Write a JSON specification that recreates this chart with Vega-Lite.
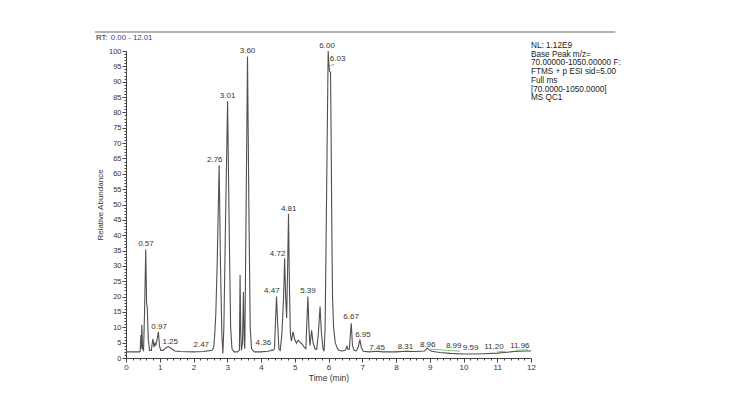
{
  "$schema": "https://vega.github.io/schema/vega-lite/v6.json",
  "autosize": "none",
  "padding": {"left": 126, "top": 51, "right": 206, "bottom": 57},
  "width": 405,
  "height": 307,
  "background": "white",
  "config": {"view": {"stroke": null}, "font": "Liberation Sans"},
  "datasets": {
    "trace": [
      {"t": 0.00, "v": 2.0}, {"t": 0.40, "v": 2.0}, {"t": 0.42, "v": 2.2}, {"t": 0.44, "v": 7.5}, {"t": 0.45, "v": 3.0},
      {"t": 0.47, "v": 10.8}, {"t": 0.49, "v": 3.0}, {"t": 0.52, "v": 2.5}, {"t": 0.55, "v": 15}, {"t": 0.585, "v": 35.3},
      {"t": 0.61, "v": 18}, {"t": 0.63, "v": 16.5}, {"t": 0.66, "v": 6}, {"t": 0.70, "v": 2.5}, {"t": 0.75, "v": 2.5},
      {"t": 0.78, "v": 5}, {"t": 0.80, "v": 6.2}, {"t": 0.83, "v": 3.5}, {"t": 0.86, "v": 5}, {"t": 0.88, "v": 4},
      {"t": 0.92, "v": 6}, {"t": 0.96, "v": 8.5}, {"t": 0.99, "v": 4}, {"t": 1.03, "v": 2.5}, {"t": 1.10, "v": 2.5},
      {"t": 1.18, "v": 3.3}, {"t": 1.25, "v": 3.7}, {"t": 1.33, "v": 3.2}, {"t": 1.45, "v": 2.3}, {"t": 1.60, "v": 2.1},
      {"t": 2.00, "v": 2.0}, {"t": 2.30, "v": 2.1}, {"t": 2.47, "v": 2.4}, {"t": 2.55, "v": 2.5}, {"t": 2.60, "v": 3.5},
      {"t": 2.63, "v": 8}, {"t": 2.66, "v": 14}, {"t": 2.70, "v": 30}, {"t": 2.76, "v": 62.8}, {"t": 2.80, "v": 30},
      {"t": 2.84, "v": 8}, {"t": 2.87, "v": 1.5}, {"t": 2.90, "v": 10}, {"t": 2.95, "v": 45}, {"t": 3.01, "v": 83.6},
      {"t": 3.06, "v": 40}, {"t": 3.10, "v": 10}, {"t": 3.14, "v": 3}, {"t": 3.20, "v": 2}, {"t": 3.30, "v": 2},
      {"t": 3.36, "v": 2.5}, {"t": 3.38, "v": 27}, {"t": 3.40, "v": 8}, {"t": 3.42, "v": 2.5}, {"t": 3.45, "v": 5},
      {"t": 3.48, "v": 21.5}, {"t": 3.50, "v": 6}, {"t": 3.52, "v": 3}, {"t": 3.56, "v": 50}, {"t": 3.60, "v": 98.2},
      {"t": 3.64, "v": 50}, {"t": 3.68, "v": 10}, {"t": 3.72, "v": 3}, {"t": 3.80, "v": 2}, {"t": 4.00, "v": 2},
      {"t": 4.20, "v": 2.2}, {"t": 4.36, "v": 2.5}, {"t": 4.40, "v": 3}, {"t": 4.43, "v": 12}, {"t": 4.46, "v": 20},
      {"t": 4.49, "v": 12}, {"t": 4.53, "v": 3}, {"t": 4.57, "v": 2.5}, {"t": 4.62, "v": 8}, {"t": 4.67, "v": 20},
      {"t": 4.70, "v": 32.5}, {"t": 4.73, "v": 20}, {"t": 4.76, "v": 13}, {"t": 4.79, "v": 30}, {"t": 4.815, "v": 47},
      {"t": 4.84, "v": 25}, {"t": 4.87, "v": 8}, {"t": 4.90, "v": 5.5}, {"t": 4.95, "v": 8.5}, {"t": 5.00, "v": 6},
      {"t": 5.05, "v": 4.8}, {"t": 5.10, "v": 5.8}, {"t": 5.15, "v": 5.2}, {"t": 5.22, "v": 4.5}, {"t": 5.28, "v": 3.5},
      {"t": 5.33, "v": 3}, {"t": 5.36, "v": 12}, {"t": 5.39, "v": 20}, {"t": 5.42, "v": 10}, {"t": 5.45, "v": 4},
      {"t": 5.50, "v": 9}, {"t": 5.54, "v": 5}, {"t": 5.60, "v": 3}, {"t": 5.65, "v": 2.8}, {"t": 5.70, "v": 8},
      {"t": 5.75, "v": 16.8}, {"t": 5.79, "v": 8}, {"t": 5.84, "v": 3}, {"t": 5.87, "v": 2.2}, {"t": 5.90, "v": 10},
      {"t": 5.95, "v": 60}, {"t": 5.99, "v": 100}, {"t": 6.01, "v": 96}, {"t": 6.03, "v": 93.5}, {"t": 6.06, "v": 93},
      {"t": 6.08, "v": 70}, {"t": 6.10, "v": 40}, {"t": 6.12, "v": 20}, {"t": 6.15, "v": 10}, {"t": 6.20, "v": 5},
      {"t": 6.25, "v": 3.5}, {"t": 6.30, "v": 2.5}, {"t": 6.40, "v": 2.3}, {"t": 6.50, "v": 2.5}, {"t": 6.55, "v": 3.8},
      {"t": 6.58, "v": 2.8}, {"t": 6.62, "v": 3}, {"t": 6.65, "v": 8}, {"t": 6.675, "v": 11.3}, {"t": 6.71, "v": 4},
      {"t": 6.76, "v": 2.5}, {"t": 6.82, "v": 2.3}, {"t": 6.88, "v": 3.5}, {"t": 6.93, "v": 6}, {"t": 6.97, "v": 3.5},
      {"t": 7.03, "v": 2.2}, {"t": 7.20, "v": 2.0}, {"t": 7.45, "v": 2.2}, {"t": 7.60, "v": 2.0}, {"t": 8.00, "v": 2.0},
      {"t": 8.31, "v": 2.2}, {"t": 8.60, "v": 2.1}, {"t": 8.85, "v": 2.3}, {"t": 8.92, "v": 3.2}, {"t": 8.97, "v": 2.8},
      {"t": 9.05, "v": 2.2}, {"t": 9.30, "v": 1.8}, {"t": 9.60, "v": 1.5}, {"t": 10.00, "v": 1.3}, {"t": 10.30, "v": 1.3},
      {"t": 10.60, "v": 1.4}, {"t": 11.00, "v": 1.6}, {"t": 11.20, "v": 1.8}, {"t": 11.50, "v": 2.1}, {"t": 11.80, "v": 2.3},
      {"t": 12.00, "v": 2.3}
    ],
    "green": [
      {"seg": "a", "t": 4.28, "v": 2.6}, {"seg": "a", "t": 4.40, "v": 2.9},
      {"seg": "b", "t": 6.05, "v": 95.3}, {"seg": "b", "t": 6.18, "v": 95.6},
      {"seg": "c", "t": 2.36, "v": 2.4}, {"seg": "c", "t": 2.47, "v": 2.5},
      {"seg": "d", "t": 9.00, "v": 2.9}, {"seg": "d", "t": 9.40, "v": 2.6}, {"seg": "d", "t": 9.90, "v": 2.2},
      {"seg": "e", "t": 11.00, "v": 2.0}, {"seg": "e", "t": 11.25, "v": 2.2},
      {"seg": "f", "t": 11.55, "v": 2.5}, {"seg": "f", "t": 11.90, "v": 2.7}
    ],
    "labels": [
      {"label": "0.57", "lx": 0.59, "ly": 35.8},
      {"label": "0.97", "lx": 0.98, "ly": 8.9},
      {"label": "1.25", "lx": 1.31, "ly": 4.0},
      {"label": "2.47", "lx": 2.23, "ly": 2.9},
      {"label": "2.76", "lx": 2.63, "ly": 63.2},
      {"label": "3.01", "lx": 3.01, "ly": 84.0},
      {"label": "3.60", "lx": 3.60, "ly": 98.6},
      {"label": "4.36", "lx": 4.07, "ly": 3.7},
      {"label": "4.47", "lx": 4.32, "ly": 20.4},
      {"label": "4.72", "lx": 4.49, "ly": 32.6},
      {"label": "4.81", "lx": 4.82, "ly": 47.2},
      {"label": "5.39", "lx": 5.39, "ly": 20.6},
      {"label": "6.00", "lx": 5.96, "ly": 100.4},
      {"label": "6.03", "lx": 6.27, "ly": 96.0},
      {"label": "6.67", "lx": 6.67, "ly": 11.9},
      {"label": "6.95", "lx": 7.02, "ly": 6.3},
      {"label": "7.45", "lx": 7.44, "ly": 2.0},
      {"label": "8.31", "lx": 8.28, "ly": 2.3},
      {"label": "8.96", "lx": 8.94, "ly": 2.9},
      {"label": "8.99", "lx": 9.71, "ly": 2.7},
      {"label": "9.59", "lx": 10.21, "ly": 2.0},
      {"label": "11.20", "lx": 10.90, "ly": 2.3},
      {"label": "11.96", "lx": 11.67, "ly": 2.7}
    ]
  },
  "layer": [
    {
      "data": {"name": "trace"},
      "mark": {"type": "line", "color": "#505050", "strokeWidth": 1.1, "clip": false},
      "encoding": {
        "x": {"field": "t", "type": "quantitative",
          "scale": {"domain": [0, 12], "nice": false, "zero": false},
          "axis": {"orient": "bottom", "values": [0,1,2,3,4,5,6,7,8,9,10,11,12], "format": "d", "grid": false,
            "title": "Time (min)", "titleFontSize": 8.5, "titleFontWeight": "normal", "titleColor": "#333333", "titlePadding": 2,
            "labelFontSize": 8, "labelColor": "#333333", "labelPadding": 1, "tickSize": 4, "tickColor": "#444444",
            "domainColor": "#444444", "labelFlush": false}},
        "y": {"field": "v", "type": "quantitative",
          "scale": {"domain": [0, 100], "nice": false},
          "axis": {"orient": "left", "values": [0,5,10,15,20,25,30,35,40,45,50,55,60,65,70,75,80,85,90,95,100], "grid": false,
            "title": "Relative Abundance", "titleFontSize": 8, "titleFontWeight": "normal", "titleColor": "#333333", "titlePadding": 4,
            "labelFontSize": 7.5, "labelColor": "#333333", "labelPadding": 1, "tickSize": 4, "tickColor": "#444444",
            "domainColor": "#444444", "labelFlush": false}}
      }
    },
    {
      "data": {"name": "green"},
      "mark": {"type": "line", "color": "#7cc47c", "strokeWidth": 1},
      "encoding": {
        "detail": {"field": "seg", "type": "nominal"},
        "x": {"field": "t", "type": "quantitative",
          "axis": {"orient": "bottom", "values": [0.2,0.4,0.6,0.8,1.2,1.4,1.6,1.8,2.2,2.4,2.6,2.8,3.2,3.4,3.6,3.8,4.2,4.4,4.6,4.8,5.2,5.4,5.6,5.8,6.2,6.4,6.6,6.8,7.2,7.4,7.6,7.8,8.2,8.4,8.6,8.8,9.2,9.4,9.6,9.8,10.2,10.4,10.6,10.8,11.2,11.4,11.6,11.8],
            "labels": false, "domain": false, "grid": false, "title": null, "tickSize": 2, "tickColor": "#444444"}},
        "y": {"field": "v", "type": "quantitative",
          "axis": {"orient": "left", "values": [1,2,3,4,6,7,8,9,11,12,13,14,16,17,18,19,21,22,23,24,26,27,28,29,31,32,33,34,36,37,38,39,41,42,43,44,46,47,48,49,51,52,53,54,56,57,58,59,61,62,63,64,66,67,68,69,71,72,73,74,76,77,78,79,81,82,83,84,86,87,88,89,91,92,93,94,96,97,98,99],
            "labels": false, "domain": false, "grid": false, "title": null, "tickSize": 2, "tickColor": "#444444"}}
      }
    },
    {
      "data": {"name": "labels"},
      "mark": {"type": "text", "fontSize": 8, "color": "#333333", "baseline": "bottom", "align": "center"},
      "encoding": {
        "x": {"field": "lx", "type": "quantitative", "axis": null},
        "y": {"field": "ly", "type": "quantitative", "axis": null},
        "text": {"field": "label", "type": "nominal"}
      }
    },
    {
      "data": {"values": [{}]},
      "mark": {"type": "text", "fontSize": 8.2, "color": "#222222", "align": "left", "baseline": "top", "lineHeight": 8.7,
        "text": ["NL: 1.12E9", "Base Peak m/z=", "70.00000-1050.00000 F:", "FTMS + p ESI sid=5.00", "Full ms", "[70.0000-1050.0000]", "MS QC1"]},
      "encoding": {"x": {"datum": 12.0, "type": "quantitative", "axis": null}, "y": {"datum": 102.9, "type": "quantitative", "axis": null}}
    },
    {
      "data": {"values": [{}]},
      "mark": {"type": "text", "fontSize": 7.8, "color": "#222222", "align": "left", "baseline": "middle", "text": "RT:"},
      "encoding": {"x": {"datum": -0.89, "type": "quantitative", "axis": null}, "y": {"datum": 104.2, "type": "quantitative", "axis": null}}
    },
    {
      "data": {"values": [{}]},
      "mark": {"type": "text", "fontSize": 7.8, "color": "#3a3aa8", "align": "left", "baseline": "middle", "text": "0.00 - 12.01"},
      "encoding": {"x": {"datum": -0.45, "type": "quantitative", "axis": null}, "y": {"datum": 104.2, "type": "quantitative", "axis": null}}
    },
    {
      "data": {"values": [{}]},
      "mark": {"type": "rule", "color": "#b3b3b3", "strokeWidth": 2},
      "encoding": {"x": {"datum": -0.92, "type": "quantitative", "axis": null}, "x2": {"datum": 14.5}, "y": {"datum": 106.2, "type": "quantitative", "axis": null}}
    }
  ],
  "resolve": {"axis": {"x": "independent", "y": "independent"}}
}
